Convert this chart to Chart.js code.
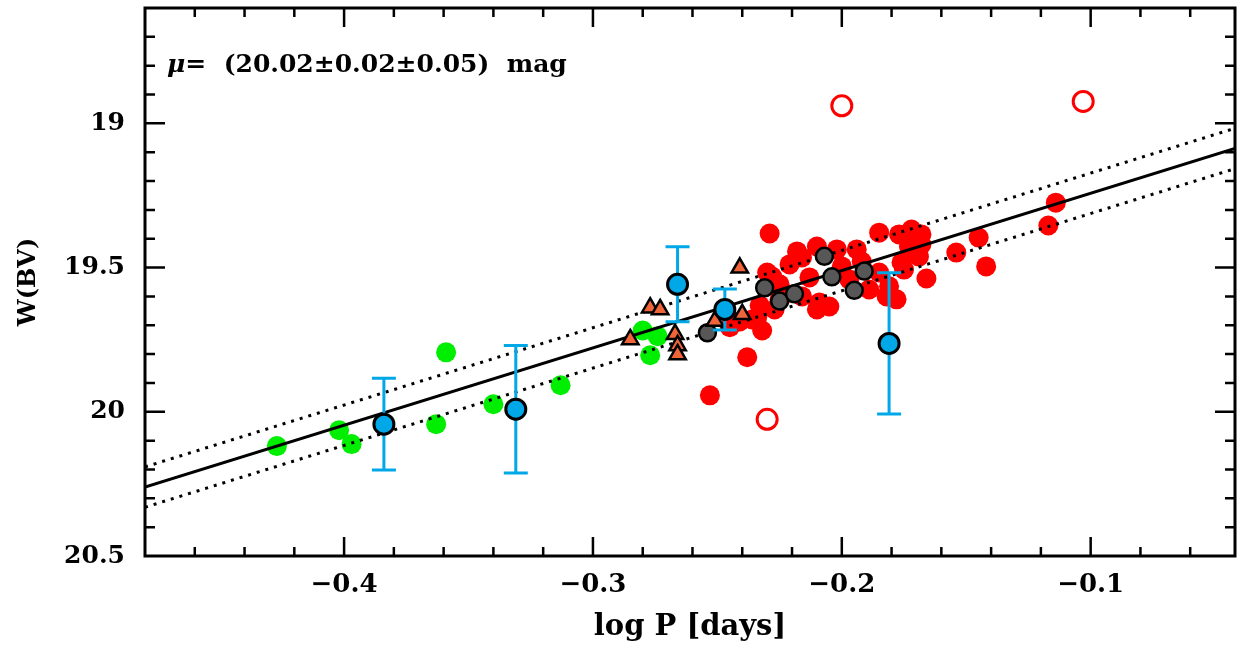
<!DOCTYPE html>
<html lang="en">
  <head>
    <meta charset="UTF-8" />
    <meta name="viewport" content="width=device-width, initial-scale=1.0" />
    <title>W(BV) vs log P</title>
    <script src="https://cdn.jsdelivr.net/npm/chart.js"></script>
    <style>
      body { margin: 0; background: #fff; overflow: hidden; }
    </style>
  </head>
  <body>
    <canvas id="plChart" width="1238" height="652"></canvas>
    <script>
      // tick labels
      const xTicks = [-0.4, -0.3, -0.2, -0.1];
      const yTicks = [19, 19.5, 20, 20.5];

      // green sample
      const greenLogP = [-0.427, -0.402, -0.397, -0.359, -0.363, -0.340, -0.313, -0.280, -0.274, -0.277];
      const greenW = [20.119, 20.064, 20.112, 19.794, 20.043, 19.974, 19.908, 19.718, 19.738, 19.804];

      // red sample (filled)
      const redLogP = [-0.229, -0.238, -0.253, -0.245, -0.232, -0.234, -0.227, -0.225, -0.236, -0.233,
        -0.230, -0.225, -0.228, -0.216, -0.218, -0.210, -0.202, -0.194, -0.200, -0.213,
        -0.216, -0.224, -0.209, -0.205, -0.210, -0.189, -0.185, -0.182, -0.181, -0.178,
        -0.185, -0.177, -0.172, -0.168, -0.168, -0.173, -0.169, -0.176, -0.175, -0.166,
        -0.154, -0.145, -0.142, -0.117, -0.114, -0.192, -0.197, -0.221, -0.241];
      const redW = [19.382, 19.811, 19.943, 19.707, 19.718, 19.673, 19.645, 19.610, 19.680, 19.631,
        19.517, 19.558, 19.531, 19.465, 19.444, 19.427, 19.437, 19.437, 19.496, 19.534,
        19.600, 19.600, 19.621, 19.635, 19.645, 19.576, 19.517, 19.600, 19.565, 19.610,
        19.379, 19.385, 19.368, 19.385, 19.420, 19.427, 19.462, 19.482, 19.507, 19.538,
        19.448, 19.396, 19.496, 19.354, 19.275, 19.479, 19.541, 19.489, 19.687];

      // red rejected (open)
      const openLogP = [-0.200, -0.103, -0.230];
      const openW = [18.939, 18.924, 20.026];

      // triangles
      const triLogP = [-0.285, -0.277, -0.273, -0.267, -0.266, -0.266, -0.251, -0.240, -0.241];
      const triW = [19.749, 19.639, 19.645, 19.731, 19.770, 19.801, 19.685, 19.662, 19.501];

      // grey sample
      const greyLogP = [-0.254, -0.231, -0.225, -0.219, -0.207, -0.204, -0.195, -0.191];
      const greyW = [19.726, 19.570, 19.616, 19.591, 19.461, 19.532, 19.579, 19.512];

      // blue points with errors
      const blueLogP = [-0.384, -0.331, -0.266, -0.247, -0.181];
      const blueW = [20.043, 19.991, 19.558, 19.645, 19.763];
      const blueErr = [0.159, 0.221, 0.130, 0.071, 0.245];

      // fitted relation and its dispersion
      const fitLogP = [-0.48, -0.042];
      const fitW = [20.261, 19.087];
      const fitWUpper = [20.191, 19.017];
      const fitWLower = [20.331, 19.157];

      const FONT = "'DejaVu Serif', serif";
      const pts = (xs, ys) => xs.map((x, i) => ({ x: x, y: ys[i] }));

      const errorBars = {
        id: "errorBars",
        beforeDatasetDraw(chart, args) {
          const ds = chart.data.datasets[args.index];
          if (ds.label !== "blue") return;
          const c = chart.ctx;
          const sx = chart.scales.x, sy = chart.scales.y;
          c.save();
          c.strokeStyle = "#00a8e8";
          c.lineWidth = 3;
          c.beginPath();
          blueLogP.forEach((v, i) => {
            const px = sx.getPixelForValue(v);
            const p1 = sy.getPixelForValue(blueW[i] - blueErr[i]);
            const p2 = sy.getPixelForValue(blueW[i] + blueErr[i]);
            c.moveTo(px, p1); c.lineTo(px, p2);
            c.moveTo(px - 12, p1); c.lineTo(px + 12, p1);
            c.moveTo(px - 12, p2); c.lineTo(px + 12, p2);
          });
          c.stroke();
          c.restore();
        },
      };

      const frame = {
        id: "frame",
        afterDatasetsDraw(chart) {
          const c = chart.ctx, a = chart.chartArea;
          const sx = chart.scales.x, sy = chart.scales.y;
          c.save();
          c.strokeStyle = "#000";
          c.lineWidth = 2.5;
          c.beginPath();
          for (let i = -24; i <= -2; i++) {
            const px = sx.getPixelForValue(i * 0.02);
            if (px <= a.left || px >= a.right) continue;
            const len = i % 5 === 0 ? 19 : 9;
            c.moveTo(px, a.bottom); c.lineTo(px, a.bottom - len);
            c.moveTo(px, a.top); c.lineTo(px, a.top + len);
          }
          for (let i = 187; i <= 204; i++) {
            const py = sy.getPixelForValue(i / 10);
            const len = i % 5 === 0 ? 20 : 10;
            c.moveTo(a.left, py); c.lineTo(a.left + len, py);
            c.moveTo(a.right, py); c.lineTo(a.right - len, py);
          }
          c.stroke();
          c.lineWidth = 3;
          c.strokeRect(a.left, a.top, a.right - a.left, a.bottom - a.top);
          c.restore();
        },
        afterDraw(chart) {
          const c = chart.ctx;
          c.save();
          c.fillStyle = "#000";
          c.textBaseline = "middle";
          let x = 167;
          const y = 65;
          c.font = "italic bold 25px " + FONT;
          c.fillText("\u03bc", x, y);
          x += c.measureText("\u03bc").width;
          c.font = "bold 25px " + FONT;
          c.fillText("=  (20.02\u00b10.02\u00b10.05)  mag", x, y);
          c.restore();
        },
      };

      const ctx = document.getElementById("plChart").getContext("2d");
      new Chart(ctx, {
        type: "scatter",
        data: {
          datasets: [
            {
              label: "blue",
              data: pts(blueLogP, blueW),
              pointRadius: 10,
              backgroundColor: "#00a8e8",
              borderColor: "#000",
              borderWidth: 3,
              order: 1,
            },
            {
              label: "triangles",
              data: pts(triLogP, triW),
              pointStyle: "triangle",
              pointRadius: 9.5,
              backgroundColor: "#f0643a",
              borderColor: "#000",
              borderWidth: 2.5,
              order: 2,
            },
            {
              label: "grey",
              data: pts(greyLogP, greyW),
              pointRadius: 8.5,
              backgroundColor: "#575757",
              borderColor: "#000",
              borderWidth: 2.5,
              order: 3,
            },
            {
              type: "line",
              label: "fit",
              data: pts(fitLogP, fitW),
              borderColor: "#000",
              borderWidth: 3,
              pointRadius: 0,
              order: 4,
            },
            {
              type: "line",
              label: "upper",
              data: pts(fitLogP, fitWUpper),
              borderColor: "#000",
              borderWidth: 3,
              borderDash: [3, 6],
              pointRadius: 0,
              order: 5,
            },
            {
              type: "line",
              label: "lower",
              data: pts(fitLogP, fitWLower),
              borderColor: "#000",
              borderWidth: 3,
              borderDash: [3, 6],
              pointRadius: 0,
              order: 6,
            },
            {
              label: "green",
              data: pts(greenLogP, greenW),
              pointRadius: 10,
              backgroundColor: "#00ee00",
              borderWidth: 0,
              order: 7,
            },
            {
              label: "open",
              data: pts(openLogP, openW),
              pointRadius: 10,
              backgroundColor: "rgba(255,255,255,0)",
              borderColor: "#ff0000",
              borderWidth: 3,
              order: 8,
            },
            {
              label: "red",
              data: pts(redLogP, redW),
              pointRadius: 10,
              backgroundColor: "#ff0000",
              borderWidth: 0,
              order: 9,
            },
          ],
        },
        options: {
          responsive: false,
          animation: false,
          events: [],
          layout: { autoPadding: false, padding: { top: 8, right: 3, left: 0, bottom: 0 } },
          plugins: {
            legend: { display: false },
            tooltip: { enabled: false },
          },
          scales: {
            x: {
              type: "linear",
              min: -0.48,
              max: -0.042,
              afterBuildTicks: (s) => { s.ticks = xTicks.map((v) => ({ value: v })); },
              afterFit: (s) => { s.height = 96; s.paddingLeft = 0; s.paddingRight = 0; },
              grid: { display: false, drawTicks: false },
              border: { display: false },
              ticks: {
                color: "#000",
                padding: 14,
                maxRotation: 0,
                autoSkip: false,
                font: { family: FONT, size: 26, weight: "bold" },
                callback: (v) => "\u2212" + Math.abs(v).toFixed(1),
              },
              title: {
                display: true,
                text: "log P [days]",
                color: "#000",
                font: { family: FONT, size: 29, weight: "bold" },
                padding: { top: 0, bottom: 7 },
              },
            },
            y: {
              type: "linear",
              reverse: true,
              min: 18.6,
              max: 20.5,
              afterBuildTicks: (s) => { s.ticks = yTicks.map((v) => ({ value: v })); },
              afterFit: (s) => { s.width = 145; s.paddingTop = 0; s.paddingBottom = 0; },
              grid: { display: false, drawTicks: false },
              border: { display: false },
              ticks: {
                color: "#000",
                padding: 20,
                autoSkip: false,
                font: { family: FONT, size: 25, weight: "bold" },
                callback: (v) => String(v),
              },
              title: {
                display: true,
                text: "W(BV)",
                color: "#000",
                font: { family: FONT, size: 24, weight: "bold" },
                padding: { top: 14, bottom: 0 },
              },
            },
          },
        },
        plugins: [errorBars, frame],
      });
    </script>
  </body>
</html>
